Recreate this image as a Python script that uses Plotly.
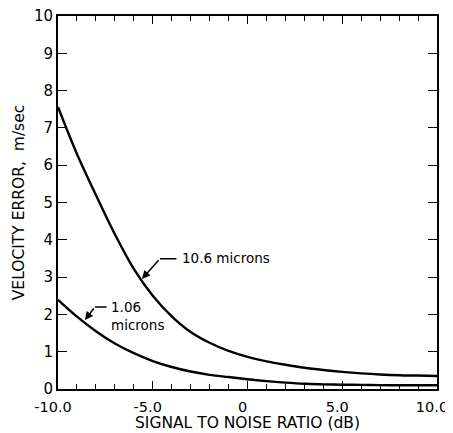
import plotly.graph_objects as go

snr_db = [-10, -9, -8, -7, -6, -5, -4, -3, -2, -1, 0, 1, 2, 3, 4, 5, 6, 7, 8, 9, 10]
err_10_6 = [7.56, 6.3, 5.2, 4.15, 3.22, 2.5, 1.95, 1.53, 1.24, 1.02, 0.86, 0.74,
            0.65, 0.57, 0.51, 0.46, 0.42, 0.39, 0.37, 0.36, 0.35]
err_1_06 = [2.39, 1.94, 1.55, 1.22, 0.96, 0.75, 0.59, 0.47, 0.38, 0.32, 0.26, 0.21,
            0.17, 0.14, 0.125, 0.115, 0.11, 0.105, 0.10, 0.10, 0.10]

x_tickvals = [-10, -5, 0, 5, 10]
x_ticktext = ["-10.0", "-5.0", "0", "5.0", "10.0"]
y_tickvals = list(range(0, 11))
label_10_6 = "10.6 microns"
label_1_06 = "1.06<br>microns"
x_title = "SIGNAL TO NOISE RATIO (dB)"
y_title = "VELOCITY ERROR,  m/sec"

FONT = "DejaVu Sans"

fig = go.Figure()
for ys in (err_10_6, err_1_06):
    fig.add_trace(go.Scatter(x=snr_db, y=ys, mode="lines",
                             line=dict(color="black", width=2.4, shape="spline", smoothing=1.0),
                             showlegend=False, hoverinfo="skip"))

ann = []
# 10.6 microns
ann.append(dict(x=-5.57, y=2.95, ax=-4.62, ay=3.49, xref="x", yref="y", axref="x", ayref="y",
                text="", showarrow=True, arrowhead=2, arrowsize=1.1, arrowwidth=1.5, arrowcolor="black"))
ann.append(dict(x=-4.62, y=3.49, ax=-3.67, ay=3.49, xref="x", yref="y", axref="x", ayref="y",
                text="", showarrow=True, arrowhead=0, arrowwidth=1.5, arrowcolor="black"))
ann.append(dict(x=-3.55, y=3.52, xref="x", yref="y", text=label_10_6, showarrow=False,
                xanchor="left", yanchor="middle", font=dict(family=FONT, size=13.5, color="black")))
# 1.06 microns
ann.append(dict(x=-8.58, y=1.85, ax=-8.05, ay=2.2, xref="x", yref="y", axref="x", ayref="y",
                text="", showarrow=True, arrowhead=2, arrowsize=1.1, arrowwidth=1.5, arrowcolor="black"))
ann.append(dict(x=-8.05, y=2.2, ax=-7.36, ay=2.2, xref="x", yref="y", axref="x", ayref="y",
                text="", showarrow=True, arrowhead=0, arrowwidth=1.5, arrowcolor="black"))
ann.append(dict(x=-7.3, y=1.97, xref="x", yref="y", text=label_1_06, showarrow=False, align="left",
                xanchor="left", yanchor="middle", font=dict(family=FONT, size=13.5, color="black")))
# x axis title
ann.append(dict(x=0.5, y=0, xref="paper", yref="paper", text=x_title, showarrow=False,
                xanchor="center", yanchor="middle", yshift=-34,
                font=dict(family=FONT, size=15.5, color="black")))

fig.update_layout(
    width=445, height=425,
    margin=dict(l=50, r=16, t=8, b=44),
    paper_bgcolor="white", plot_bgcolor="white",
    font=dict(family=FONT, size=14, color="black"),
    annotations=ann,
    xaxis=dict(range=[-10, 10], tickvals=x_tickvals, ticktext=x_ticktext, automargin=False,
               ticks="inside", ticklen=8, tickwidth=1.4, tickcolor="black",
               minor=dict(dtick=1, ticks="inside", ticklen=5, tickwidth=1.3, tickcolor="black"),
               showline=True, linecolor="black", linewidth=2, mirror="ticks",
               showgrid=False, zeroline=False, ticklabelstandoff=4, ticklabelshift=-5,
               ticklabeloverflow="allow",
               tickfont=dict(size=14.5)),
    yaxis=dict(range=[0, 10], tickvals=y_tickvals, automargin=False,
               ticks="inside", ticklen=9, tickwidth=1.4, tickcolor="black",
               showline=True, linecolor="black", linewidth=2, mirror="ticks",
               showgrid=False, zeroline=False, ticklabeloverflow="allow",
               title=dict(text=y_title, font=dict(size=15.5), standoff=5),
               tickfont=dict(size=15)),
)

fig.write_html("out.html")
